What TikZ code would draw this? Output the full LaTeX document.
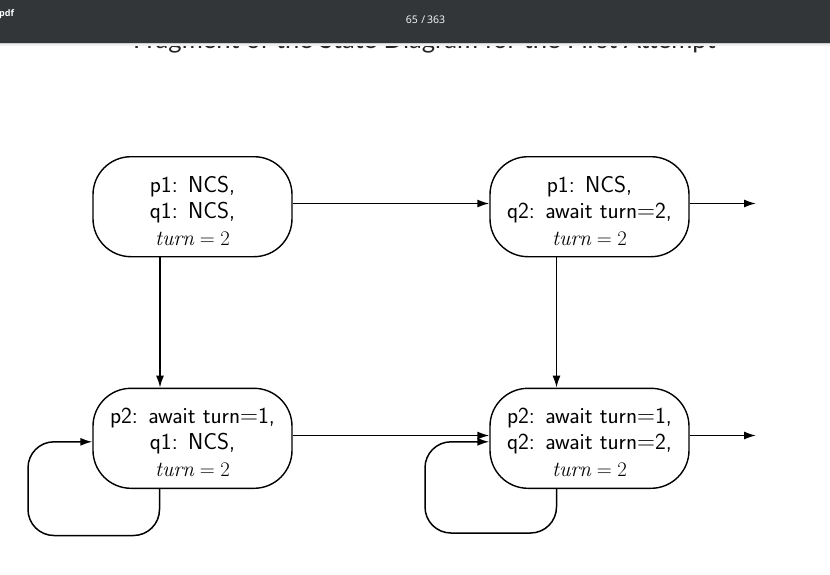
\documentclass[tikz,border=0pt]{standalone}
\usepackage{fontspec}
\newfontfamily\barfont{Open Sans}
\newfontfamily\titlefont{Lato}
\usetikzlibrary{arrows.meta}
\begin{document}
\begin{tikzpicture}[x=1pt,y=-1pt,
  state/.style={draw,line width=1.4pt,rounded corners=38pt,minimum width=199pt,minimum height=100pt,inner sep=0pt},
  statetext/.style={align=center,inner sep=0pt,font=\sffamily\fontsize{23}{26.5}\selectfont},
  edge/.style={line width=1.5pt,-{Latex[length=12pt,width=8pt]}},
  loopedge/.style={edge,rounded corners=26pt}]
\useasboundingbox (0,0) rectangle (830,574);
\fill[white] (0,0) rectangle (830,574);
% title (partly hidden by the viewer bar)
\node[anchor=base west,inner sep=0pt,font=\titlefont\fontsize{25.6}{25.6}\selectfont,text=black!85] (title) at (133,48.5) {Fragment of the State Diagram for the First Attempt};
% viewer bar
\fill[black!6] (0,42) rectangle (830,45.5);
\fill[black!20] (0,42) rectangle (830,43.5);
\fill[fill={rgb,255:red,50;green,54;blue,57}] (0,0) rectangle (830,42.5);
\node[anchor=west,inner sep=0pt,text=white,font=\barfont\bfseries\fontsize{9}{9}\selectfont] (pdf) at (-1,14) {pdf};
\node[text=white,inner sep=0pt,font=\barfont\fontsize{10.5}{10.5}\selectfont] (page) at (425.5,20) {65\,\,/\,363};
% states
\def\cs{\hspace{0.45em}}
\def\turnline{{\fontsize{21.5}{26.5}\selectfont$\mathit{turn}=2$}}
\node[state] (A) at (192.5,206.7) {};
\node[state] (B) at (589.5,206.7) {};
\node[state] (C) at (192.5,438.3) {};
\node[state] (D) at (589.5,438.3) {};
\node[statetext] (At) at ([yshift=-4pt]A.center) {p1:\cs NCS,\\ q1:\cs NCS,\\ \turnline};
\node[statetext] (Bt) at ([yshift=-4pt]B.center) {p1:\cs NCS,\\ q2:\cs await turn$=$2,\\ \turnline};
\node[statetext] (Ct) at ([yshift=-4pt]C.center) {p2:\cs await turn$=$1,\\ q1:\cs NCS,\\ \turnline};
\node[statetext] (Dt) at ([yshift=-4pt]D.center) {p2:\cs await turn$=$1,\\ q2:\cs await turn$=$2,\\ \turnline};
\coordinate (Bout) at (756,203.5);
\coordinate (Dout) at (756,435.5);
% transitions
\draw[edge] ([yshift=3.2pt]A.east) -- ([yshift=3.2pt]B.west);
\draw[edge] ([yshift=3.2pt]B.east) -- (Bout);
\draw[edge] ([xshift=-32.5pt]A.south) -- ([xshift=-32.5pt]C.north);
\draw[edge] ([xshift=-33pt]B.south) -- ([xshift=-33pt]D.north);
\draw[edge] ([yshift=2.8pt]C.east) -- ([yshift=2.8pt]D.west);
\draw[edge] ([yshift=2.8pt]D.east) -- (Dout);
% self loops
\draw[loopedge] ([xshift=-33pt]C.south) -- ++(0,46.5) -| (28,441.8) -- ([yshift=-3.5pt]C.west);
\draw[loopedge] ([xshift=-33pt]D.south) -- ++(0,44) -| (425,441.8) -- ([yshift=-3.5pt]D.west);
\end{tikzpicture}
\end{document}
